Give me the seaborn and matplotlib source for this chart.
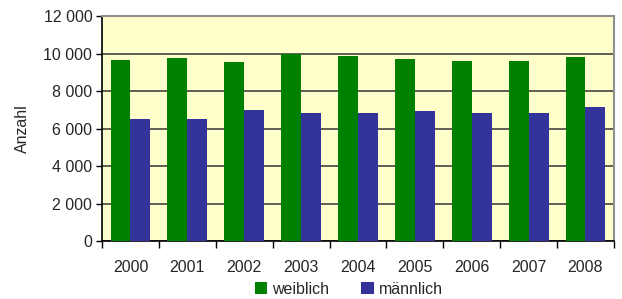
import numpy as np
import pandas as pd
import matplotlib
matplotlib.use("Agg")
import matplotlib.pyplot as plt
import seaborn as sns
from matplotlib.ticker import FuncFormatter, FixedLocator

years = ["2000", "2001", "2002", "2003", "2004", "2005", "2006", "2007", "2008"]
weiblich = [9650, 9760, 9550, 9990, 9870, 9710, 9600, 9600, 9810]
maennlich = [6500, 6500, 6990, 6830, 6830, 6930, 6830, 6830, 7150]

df = pd.DataFrame({
    "Jahr": years * 2,
    "Anzahl": weiblich + maennlich,
    "Geschlecht": ["weiblich"] * len(years) + ["männlich"] * len(years),
})

sns.set_style("white")
plt.rcParams["font.family"] = ["Liberation Sans", "DejaVu Sans"]
fs = 11.5

fig = plt.figure(figsize=(6.22, 2.99), dpi=100)
ax = fig.add_axes([0.164, 0.194, 0.823, 0.752])
ax.set_facecolor("#FFFFCC")

sns.barplot(data=df, x="Jahr", y="Anzahl", hue="Geschlecht",
            palette={"weiblich": "#008000", "männlich": "#333399"},
            width=0.7, saturation=1, linewidth=0, ax=ax, zorder=3)

ax.set_ylim(0, 12000)
ax.set_xlim(-0.5, len(years) - 0.5)
ax.set_yticks(range(0, 12001, 2000))
ax.yaxis.set_major_formatter(FuncFormatter(lambda v, p: f"{int(v):,}".replace(",", " ")))
ax.grid(axis="y", color="#333333", linewidth=1.1, zorder=0)
ax.set_axisbelow(True)

ax.xaxis.set_minor_locator(FixedLocator(np.arange(-0.5, len(years), 1)))
ax.tick_params(axis="x", which="major", length=0, pad=14, labelsize=fs)
ax.tick_params(axis="x", which="minor", length=5, width=1, color="black", direction="out", bottom=True)
ax.tick_params(axis="y", length=4, width=1, color="black", direction="out", left=True, labelsize=fs, pad=3)

for s in ["left", "bottom"]:
    ax.spines[s].set_color("black")
    ax.spines[s].set_linewidth(1.2)
for s in ["top", "right"]:
    ax.spines[s].set_color("#909090")
    ax.spines[s].set_linewidth(1.5)

ax.set_xlabel("")
ax.set_ylabel("Anzahl", fontsize=fs, labelpad=10)

ax.legend(loc="upper center", bbox_to_anchor=(0.482, -0.145), ncol=2, frameon=False,
          fontsize=fs, handlelength=0.8, handleheight=0.8, handletextpad=0.3,
          columnspacing=2.0, borderpad=0)

fig.savefig("out.png", dpi=100)
